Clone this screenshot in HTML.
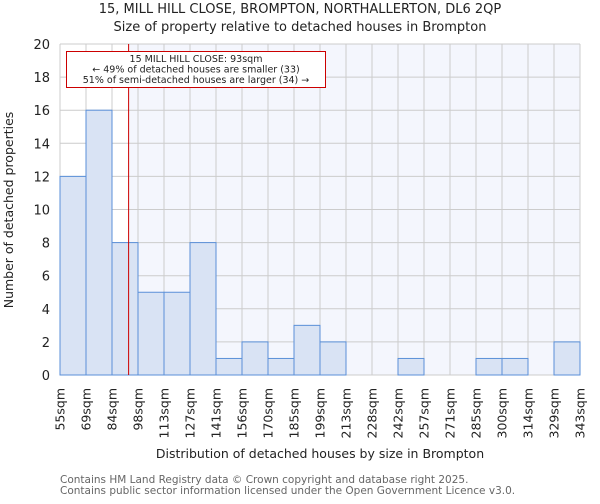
<!DOCTYPE html>
<html><head><meta charset="utf-8"><style>
body{margin:0;background:#fff;font-family:"DejaVu Sans","Liberation Sans",sans-serif;}
</style></head><body>
<svg id="chart" width="600" height="500" xmlns="http://www.w3.org/2000/svg" font-family="DejaVu Sans, Liberation Sans, sans-serif">
<text x="300" y="13" text-anchor="middle" font-size="13" fill="#222">15, MILL HILL CLOSE, BROMPTON, NORTHALLERTON, DL6 2QP</text>
<text x="300" y="31" text-anchor="middle" font-size="13" fill="#222">Size of property relative to detached houses in Brompton</text>
<g id="plot"></g>
<text x="320" y="458" text-anchor="middle" font-size="12.5" fill="#222">Distribution of detached houses by size in Brompton</text>
<text transform="translate(13,210) rotate(-90)" text-anchor="middle" font-size="12.5" fill="#222">Number of detached properties</text>
<text x="60" y="483" font-size="10.5" fill="#666">Contains HM Land Registry data © Crown copyright and database right 2025.</text>
<text x="60" y="494" font-size="10.5" fill="#666">Contains public sector information licensed under the Open Government Licence v3.0.</text>
</svg>
<script>
const binLabels=["55sqm","69sqm","84sqm","98sqm","113sqm","127sqm","141sqm","156sqm","170sqm","185sqm","199sqm","213sqm","228sqm","242sqm","257sqm","271sqm","285sqm","300sqm","314sqm","329sqm","343sqm"];
const counts=[12,16,8,5,5,8,1,2,1,3,2,0,0,1,0,0,1,1,0,2];
const yTicks=[0,2,4,6,8,10,12,14,16,18,20];
const subjectSize=93;
const binStart=55, binWidthSqm=(343-55)/20;
const NS="http://www.w3.org/2000/svg";
const L=60,R=580,T=44,B=375;
const bw=(R-L)/counts.length;
const y=v=>B-(v/20)*(B-T);
const xs=s=>L+(s-binStart)/binWidthSqm*bw;
const g=document.getElementById('plot');
function mk(t,a){const e=document.createElementNS(NS,t);for(const k in a)e.setAttribute(k,a[k]);g.appendChild(e);return e;}
let e=mk('rect',{x:L,y:T,width:R-L,height:B-T,fill:'#fff'});


const sx=xs(subjectSize);
e=mk('rect',{x:sx,y:T,width:R-sx,height:B-T,fill:'#f4f6fd'});


for(let i=0;i<=counts.length;i++){e=mk('line',{x1:L+i*bw,x2:L+i*bw,y1:T,y2:B,stroke:'#ccc','stroke-width':1});

}
yTicks.forEach(v=>{e=mk('line',{x1:L,x2:R,y1:y(v),y2:y(v),stroke:'#ccc','stroke-width':1});


const t=mk('text',{x:L-10,y:y(v)+5,'text-anchor':'end','font-size':13,fill:'#222'});t.textContent=v;

});
counts.forEach((c,i)=>{if(c<=0)return;e=mk('rect',{x:L+i*bw,y:y(c),width:bw,height:B-y(c),fill:'#d9e3f4',stroke:'#5a8fd8','stroke-width':1});

});
binLabels.forEach((lb,i)=>{const x=L+i*bw;const t=mk('text',{transform:`translate(${x+4.5},388) rotate(-90)`,'text-anchor':'end','font-size':12.5,fill:'#222'});t.textContent=lb;

});
e=mk('line',{x1:sx,x2:sx,y1:T,y2:B,stroke:'#c00','stroke-width':1});


e=mk('rect',{x:66.5,y:51.5,width:259,height:36,fill:'#fff',stroke:'#c00','stroke-width':1});


["15 MILL HILL CLOSE: 93sqm","← 49% of detached houses are smaller (33)","51% of semi-detached houses are larger (34) →"].forEach((s,i)=>{const t=mk('text',{x:196,y:62+i*10.5,'text-anchor':'middle','font-size':9.5,fill:'#222'});t.textContent=s;

});
</script>
</body></html>
